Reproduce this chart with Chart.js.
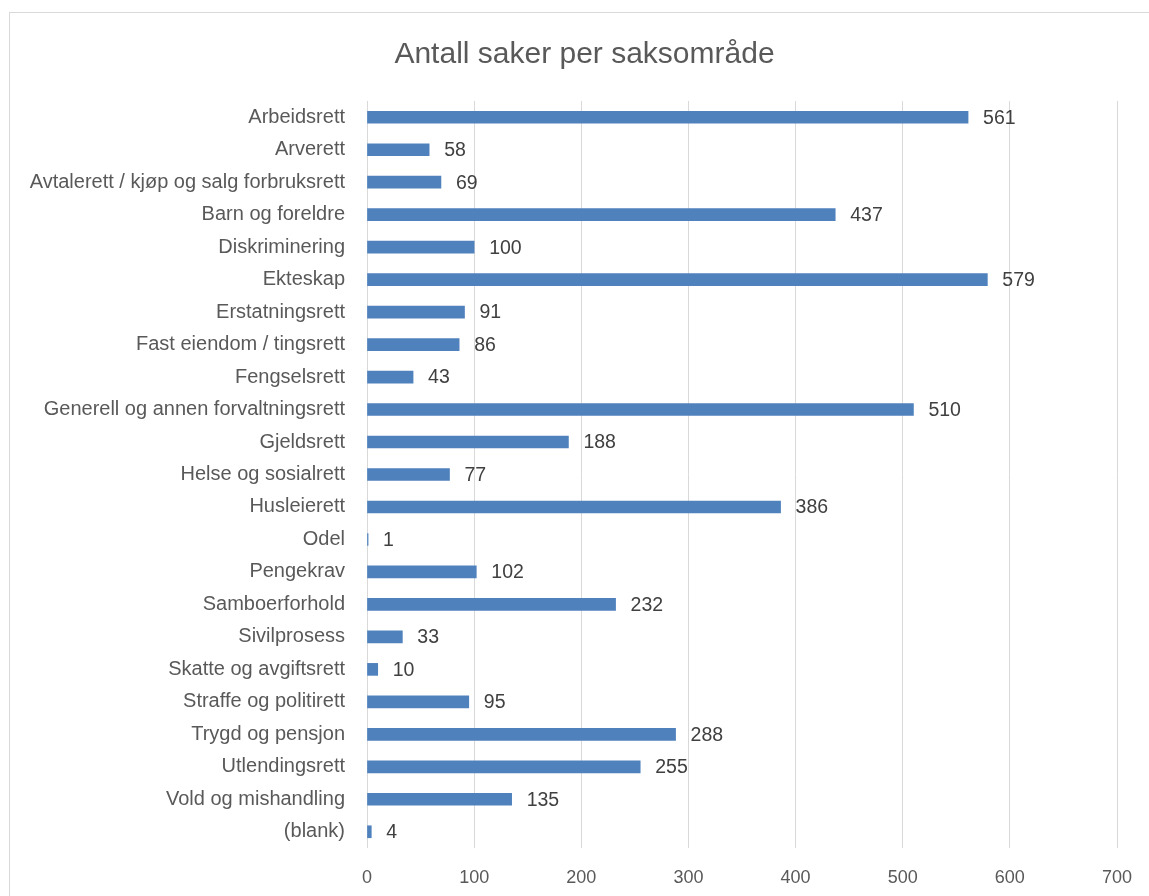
<!DOCTYPE html>
<html>
<head>
<meta charset="utf-8">
<title>Antall saker per saksområde</title>
<script src="https://cdn.jsdelivr.net/npm/chart.js@4"></script>
<style>
  html, body { margin:0; padding:0; background:#fff; overflow:hidden; }
  #frame { position:absolute; left:9px; top:12px; width:1200px; height:1000px; border:1px solid #d9d9d9; box-sizing:border-box; }
  #wrap { position:absolute; left:0; top:0; width:1149px; height:896px; }
</style>
</head>
<body>
<div id="frame"></div>
<div id="wrap"><canvas id="chart"></canvas></div>
<script>
// categories and counts
const categories = [
  'Arbeidsrett', 'Arverett', 'Avtalerett / kjøp og salg forbruksrett', 'Barn og foreldre',
  'Diskriminering', 'Ekteskap', 'Erstatningsrett', 'Fast eiendom / tingsrett', 'Fengselsrett',
  'Generell og annen forvaltningsrett', 'Gjeldsrett', 'Helse og sosialrett', 'Husleierett',
  'Odel', 'Pengekrav', 'Samboerforhold', 'Sivilprosess', 'Skatte og avgiftsrett',
  'Straffe og politirett', 'Trygd og pensjon', 'Utlendingsrett', 'Vold og mishandling', '(blank)'
];
const counts = [561, 58, 69, 437, 100, 579, 91, 86, 43, 510, 188, 77, 386, 1, 102, 232, 33, 10, 95, 288, 255, 135, 4];
const xTicks = [0, 100, 200, 300, 400, 500, 600, 700];

const FONT = '"Liberation Sans", Arial, sans-serif';

// simple value labels to the right of each bar
const valueLabels = {
  id: 'valueLabels',
  afterDatasetsDraw(chart){
    const ctx = chart.ctx;
    const meta = chart.getDatasetMeta(0);
    ctx.save();
    ctx.font = '19.5px ' + FONT;
    ctx.fillStyle = '#404040';
    ctx.textAlign = 'left';
    ctx.textBaseline = 'middle';
    meta.data.forEach((bar, i)=>{
      ctx.fillText(String(counts[i]), bar.x + 15, bar.y + 1);
    });
    ctx.restore();
  }
};

// title in the original is centred on the whole frame, nudge it right a bit
const titleShift = {
  id: 'titleShift',
  afterLayout(chart){
    if(chart.titleBlock){
      chart.titleBlock.left = 52;
      chart.titleBlock.right = 1117;
    }
  }
};

const ctx = document.getElementById('chart').getContext('2d');
new Chart(ctx, {
  type: 'bar',
  data: {
    labels: categories,
    datasets: [{ data: counts, backgroundColor: '#4F81BD', barThickness: 12, borderWidth: 0 }]
  },
  options: {
    indexAxis: 'y',
    responsive: true,
    maintainAspectRatio: false,
    animation: false,
    layout: { padding: { left: 0, right: 32, top: 0, bottom: 0 } },
    plugins: {
      legend: { display: false },
      tooltip: { enabled: false },
      title: {
        display: true,
        text: 'Antall saker per saksområde',
        color: '#595959',
        font: { family: FONT, size: 30, weight: 'normal' },
        padding: { top: 37, bottom: 28 }
      }
    },
    scales: {
      x: {
        min: 0, max: 700,
        afterBuildTicks(scale){ scale.ticks = xTicks.map(v=>({ value: v })); },
        afterFit(scale){ scale.height = 48; scale.paddingLeft = 0; scale.paddingRight = 0; },
        grid: { color: '#d9d9d9', drawTicks: false },
        border: { display: false },
        ticks: { color: '#595959', font: { family: FONT, size: 18 }, padding: 19 }
      },
      y: {
        afterFit(scale){ scale.width = 367; scale.paddingTop = 0; scale.paddingBottom = 0; },
        grid: { display: false },
        border: { display: false },
        ticks: { color: '#595959', font: { family: FONT, size: 20 }, padding: 14, autoSkip: false }
      }
    }
  },
  plugins: [valueLabels, titleShift]
});
</script>
</body>
</html>
